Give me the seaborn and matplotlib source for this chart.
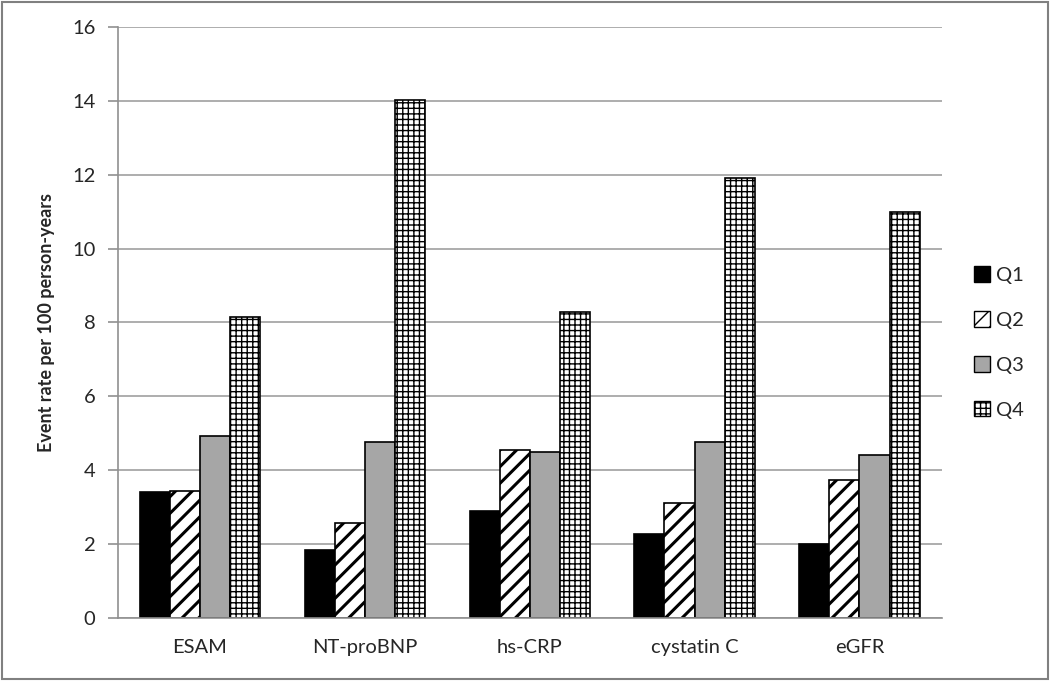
import numpy as np
import pandas as pd
import matplotlib
matplotlib.use("Agg")
import matplotlib.pyplot as plt
import seaborn as sns
from matplotlib.patches import Patch, Rectangle

markers = ["ESAM", "NT-proBNP", "hs-CRP", "cystatin C", "eGFR"]
quartiles = ["Q1", "Q2", "Q3", "Q4"]
q1 = [3.40, 1.84, 2.90, 2.27, 2.00]
q2 = [3.44, 2.57, 4.55, 3.11, 3.74]
q3 = [4.93, 4.76, 4.49, 4.76, 4.41]
q4 = [8.15, 14.03, 8.28, 11.92, 11.00]

df = pd.DataFrame({"marker": markers * 4,
                   "quartile": np.repeat(quartiles, len(markers)),
                   "rate": q1 + q2 + q3 + q4})

sns.set_style("white")
plt.rcParams["font.family"] = ["Lato", "DejaVu Sans"]

fig = plt.figure(figsize=(10.5, 6.81), dpi=100)
ax = fig.add_axes([0.112, 0.0925, 0.785, 0.868])

fills = ["black", "white", "#a6a6a6", "white"]
hatches = [None, "//", None, "+++"]
hlw = [1.0, 2.2, 1.0, 1.0]

sns.barplot(data=df, x="marker", y="rate", hue="quartile", order=markers,
            hue_order=quartiles, width=0.73, gap=0, ax=ax, legend=False,
            edgecolor="black", linewidth=1.2)

for i, cont in enumerate(ax.containers):
    for bar in cont:
        bar.set_facecolor(fills[i])
        bar.set_edgecolor("black")
        if hatches[i]:
            bar.set_hatch(hatches[i])
            if hasattr(bar, "set_hatch_linewidth"):
                bar.set_hatch_linewidth(hlw[i])

ax.set_ylim(0, 16)
ax.set_yticks(range(0, 17, 2))
ax.set_xlim(-0.5, len(markers) - 0.5)
ax.yaxis.grid(True, color="#a0a0a0", linewidth=1.2)
ax.set_axisbelow(True)
for s in ["top", "right"]:
    ax.spines[s].set_visible(False)
for s in ["left", "bottom"]:
    ax.spines[s].set_color("#909090")
    ax.spines[s].set_linewidth(1.2)

ax.set_xticks(range(len(markers)))
ax.set_xticklabels(markers)
ax.set_xticks(np.arange(-0.5, len(markers), 1), minor=True)
ax.tick_params(axis="x", which="major", length=0, labelsize=14.5, pad=15)
ax.tick_params(axis="x", which="minor", length=6, color="#909090", width=1.2)
ax.tick_params(axis="y", length=7, color="#909090", width=1.2, labelsize=14.5, pad=9, left=True)
ax.set_xlabel("")
ax.set_ylabel("Event rate per 100 person-years", fontsize=13, fontweight="bold", labelpad=12)

handles = []
for i, q in enumerate(quartiles):
    handles.append(Patch(facecolor=fills[i], edgecolor="black", hatch=hatches[i], label=q))
fig.legend(handles=handles, loc="center left", bbox_to_anchor=(0.91, 0.497),
           frameon=False, fontsize=14.5, handlelength=0.8, handleheight=0.8,
           handletextpad=0.3, labelspacing=1.35)

fig.patches.append(Rectangle((0.002, 0.003), 0.996, 0.994, transform=fig.transFigure,
                             fill=False, edgecolor="#808080", linewidth=1.5))

fig.savefig("out.png", dpi=100)
